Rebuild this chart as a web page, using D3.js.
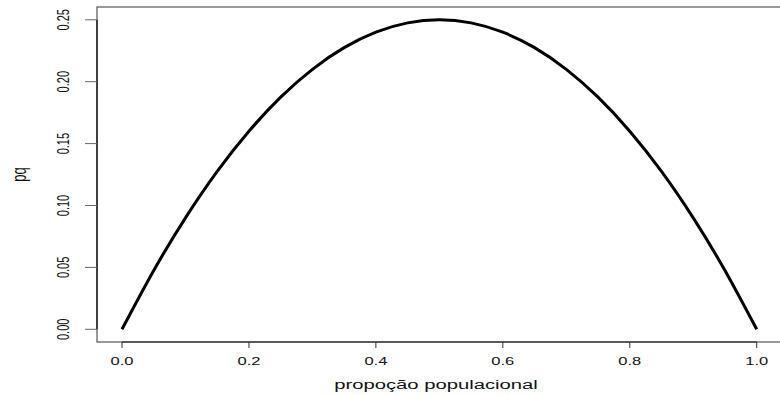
<!DOCTYPE html>
<html>
<head>
<meta charset="utf-8">
<script src="https://cdn.jsdelivr.net/npm/d3@7"></script>
<style>
  body { margin: 0; background: #fff; }
  text { font-family: "Liberation Sans", Arial, sans-serif; fill: #111; }
</style>
</head>
<body>
<div id="chart"></div>
<script>
// values
var proporcao = [0, 0.05, 0.1, 0.15, 0.2, 0.25, 0.3, 0.35, 0.4, 0.45, 0.5,
                 0.55, 0.6, 0.65, 0.7, 0.75, 0.8, 0.85, 0.9, 0.95, 1];
var pq = [0, 0.0475, 0.09, 0.1275, 0.16, 0.1875, 0.21, 0.2275, 0.24, 0.2475, 0.25,
          0.2475, 0.24, 0.2275, 0.21, 0.1875, 0.16, 0.1275, 0.09, 0.0475, 0];
var xTicks = [0, 0.2, 0.4, 0.6, 0.8, 1.0];
var yTicks = [0, 0.05, 0.10, 0.15, 0.20, 0.25];

var width = 780, height = 395;
var svg = d3.select("#chart").append("svg")
  .attr("width", width)
  .attr("height", height);

var x = d3.scaleLinear().domain([0, 1]).range([122, 756.7]);
var y = d3.scaleLinear().domain([0, 0.25]).range([329.3, 19.8]);

// plot box (right side runs past the window)
svg.append("rect")
  .attr("x", 97).attr("y", 7)
  .attr("width", 700).attr("height", 335)
  .attr("fill", "none")
  .attr("stroke", "#555")
  .attr("stroke-width", 1.2);

// x axis
var xa = svg.append("g");
xa.append("line")
  .attr("x1", x(0)).attr("x2", x(1))
  .attr("y1", 342).attr("y2", 342)
  .attr("stroke", "#444").attr("stroke-width", 1.5);
xTicks.forEach(function(t) {
  xa.append("line")
    .attr("x1", x(t)).attr("x2", x(t))
    .attr("y1", 342).attr("y2", 348)
    .attr("stroke", "#333");
  xa.append("text")
    .attr("transform", "translate(" + x(t) + ",365) scale(1.5,1)")
    .attr("text-anchor", "middle")
    .attr("font-size", "11px")
    .text(d3.format(".1f")(t));
});

// y axis
var ya = svg.append("g");
ya.append("line")
  .attr("x1", 97).attr("x2", 97)
  .attr("y1", y(0)).attr("y2", y(0.25))
  .attr("stroke", "#222").attr("stroke-width", 1.5);
yTicks.forEach(function(t) {
  ya.append("line")
    .attr("x1", 85).attr("x2", 97)
    .attr("y1", y(t)).attr("y2", y(t))
    .attr("stroke", "#666");
  ya.append("text")
    .attr("transform", "translate(63," + y(t) + ") scale(1.5,1) rotate(-90)")
    .attr("text-anchor", "middle")
    .attr("dominant-baseline", "central")
    .attr("font-size", "11px")
    .text(d3.format(".2f")(t));
});

// axis titles
svg.append("text")
  .attr("transform", "translate(436,389) scale(1.5,1)")
  .attr("text-anchor", "middle")
  .attr("font-size", "13.5px")
  .text("propoção populacional");
svg.append("text")
  .attr("transform", "translate(20,174.5) scale(1.5,1) rotate(-90)")
  .attr("text-anchor", "middle")
  .attr("dominant-baseline", "central")
  .attr("font-size", "13px")
  .text("pq");

// the curve
var line = d3.line()
  .x(function(d, i) { return x(proporcao[i]); })
  .y(function(d) { return y(d); })
  .curve(d3.curveNatural);

svg.append("path")
  .datum(pq)
  .attr("d", line)
  .attr("fill", "none")
  .attr("stroke", "#000")
  .attr("stroke-width", 3);
</script>
</body>
</html>
